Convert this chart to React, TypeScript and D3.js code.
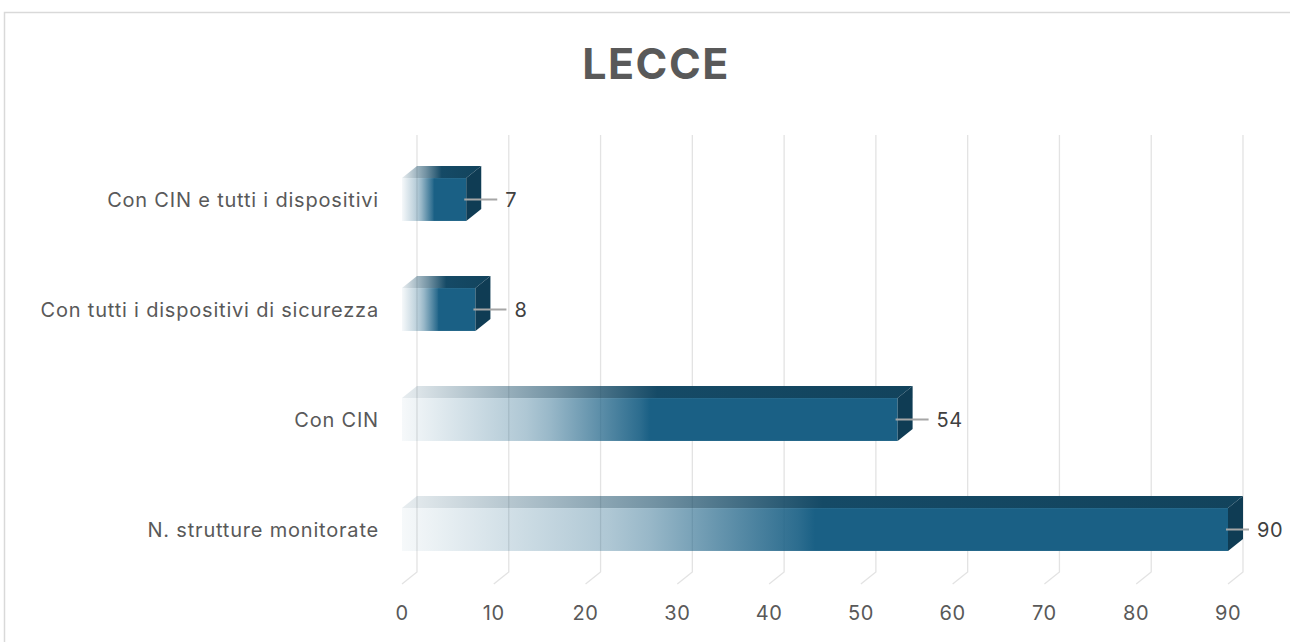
import React from "react";
import * as d3 from "d3";

const categories = [
  "Con CIN e tutti i dispositivi",
  "Con tutti i dispositivi di sicurezza",
  "Con CIN",
  "N. strutture monitorate",
];
const values = [7, 8, 54, 90];
const ticks = [0, 10, 20, 30, 40, 50, 60, 70, 80, 90];
const title = "LECCE";

const W = 1290;
const H = 642;
const DX = 15;
const DY = -12;
const FONT = "Inter, 'Open Sans', sans-serif";
const TEXT = "#595959";

export default function App() {
  const x = d3.scaleLinear().domain([0, 90]).range([402, 1228]);
  const y = d3
    .scaleBand<string>()
    .domain(categories)
    .range([144.5, 584.5])
    .paddingInner(0.61)
    .paddingOuter(0.305);
  const bw = y.bandwidth();
  const floorY = 584;
  const wallTop = 135;

  return (
    <svg
      width={W}
      height={H}
      style={{ position: "absolute", left: 0, top: 0, background: "#fff" }}
    >
      <defs>
        <linearGradient id="front" x1="0" x2="1" y1="0" y2="0">
          <stop offset="0" stopColor="#1a6085" stopOpacity={0.04} />
          <stop offset="0.25" stopColor="#1a6085" stopOpacity={0.35} />
          <stop offset="0.3" stopColor="#1a6085" stopOpacity={0.45} />
          <stop offset="0.48" stopColor="#1a6085" stopOpacity={0.92} />
          <stop offset="0.5" stopColor="#1a6085" stopOpacity={1} />
          <stop offset="1" stopColor="#1a6085" stopOpacity={1} />
        </linearGradient>
        <linearGradient id="top" x1="0" x2="1" y1="0" y2="0">
          <stop offset="0" stopColor="#154a66" stopOpacity={0.1} />
          <stop offset="0.3" stopColor="#154a66" stopOpacity={0.6} />
          <stop offset="0.5" stopColor="#154a66" stopOpacity={1} />
          <stop offset="1" stopColor="#12435c" stopOpacity={1} />
        </linearGradient>
      </defs>
      <rect x={4.5} y={12.5} width={W} height={H} fill="#fff" stroke="#d9d9d9" strokeWidth={1.5} />
      <text
        x={656}
        y={79}
        textAnchor="middle"
        fontFamily={FONT}
        fontWeight={700}
        fontSize={43}
        letterSpacing={1.5}
        fill={TEXT}
      >
        {title}
      </text>
      {/* gridlines: back wall + floor */}
      <g stroke="#e3e3e3" strokeWidth={1.3} fill="none">
        {ticks.map((t) => (
          <path
            key={t}
            d={`M${x(t) + DX},${wallTop} L${x(t) + DX},${floorY + DY} L${x(t)},${floorY}`}
          />
        ))}
      </g>
      {/* tick labels */}
      <g fontFamily={FONT} fontSize={20} letterSpacing={0.6} fill={TEXT} textAnchor="middle">
        {ticks.map((t) => (
          <text key={t} x={x(t)} y={620}>
            {t}
          </text>
        ))}
      </g>
      {/* bars */}
      {categories.map((c, i) => {
        const v = values[i];
        const x0 = x(0);
        const x1 = x(v);
        const yt = y(c)!;
        const yb = yt + bw;
        const top = `M${x0},${yt} L${x0 + DX},${yt + DY} L${x1 + DX},${yt + DY} L${x1},${yt} Z`;
        const side = `M${x1},${yt} L${x1 + DX},${yt + DY} L${x1 + DX},${yb + DY} L${x1},${yb} Z`;
        const cy = yt + bw / 2;
        const tx = Math.min(x1 + 39, 1257);
        return (
          <g key={c}>
            <path d={top} fill="url(#top)" />
            <rect x={x0} y={yt} width={x1 - x0} height={bw} fill="url(#front)" />
            <path d={side} fill="#0f3c54" />
            <line x1={x1 - 2} x2={tx - 8} y1={cy} y2={cy} stroke="#a6a6a6" strokeWidth={2} />
            <text
              x={tx}
              y={cy}
              dy="0.36em"
              fontFamily={FONT}
              fontSize={20}
              letterSpacing={0.6}
              fill="#404040"
            >
              {v}
            </text>
            <text
              x={379}
              y={cy}
              dy="0.36em"
              textAnchor="end"
              fontFamily={FONT}
              fontSize={20}
              letterSpacing={0.8}
              fill={TEXT}
            >
              {c}
            </text>
          </g>
        );
      })}
    </svg>
  );
}
